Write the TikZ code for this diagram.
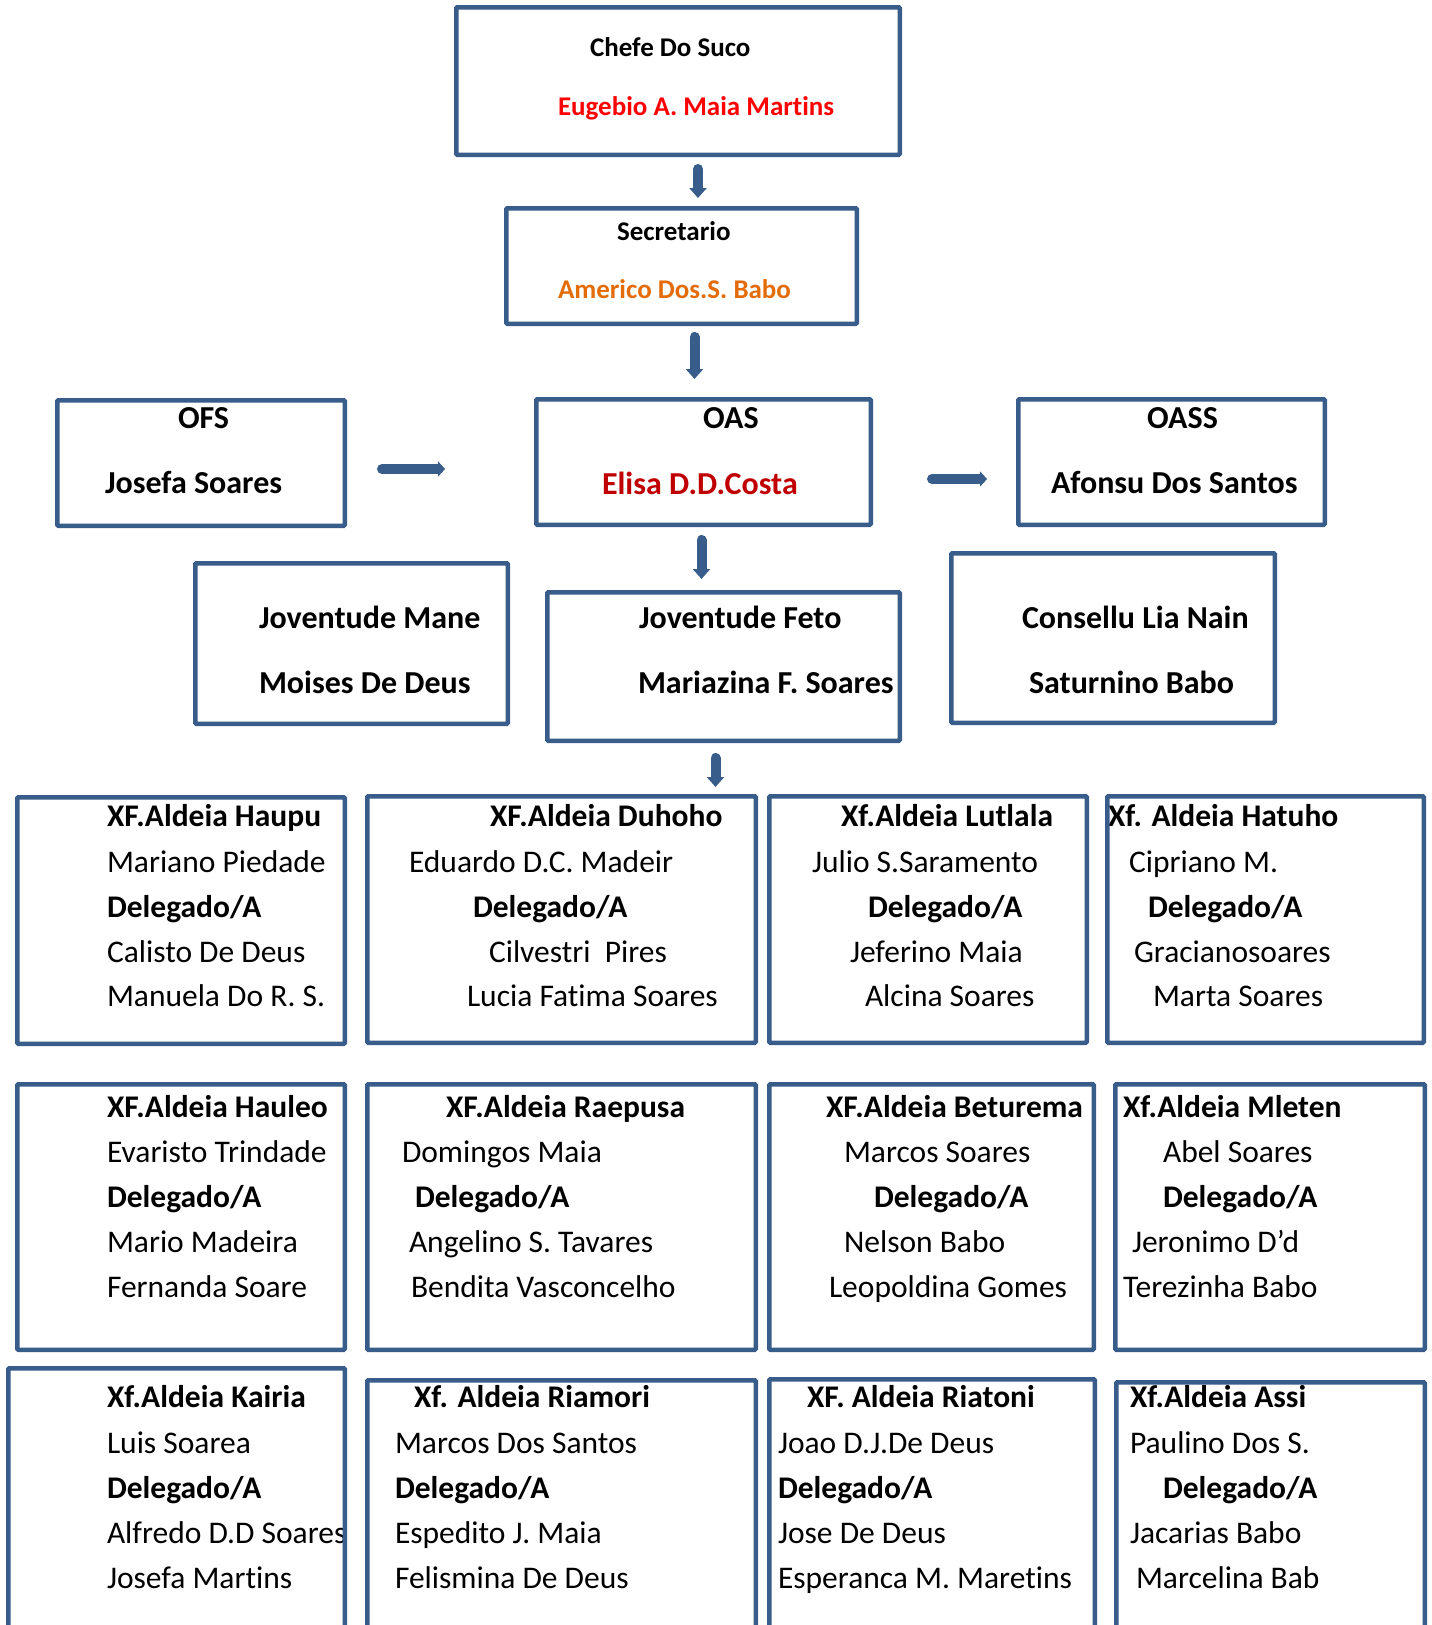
\documentclass[tikz,border=0pt]{standalone}
\usepackage{fontspec}
\setmainfont{Carlito}[Ligatures=NoCommon]
\usetikzlibrary{arrows.meta}
\definecolor{boxblue}{RGB}{56,93,138}
\definecolor{redname}{RGB}{255,0,0}
\definecolor{orangename}{RGB}{227,108,9}
\definecolor{darkredname}{RGB}{192,0,0}
\tikzset{
  box/.style={draw=boxblue, line width=4.5pt, rounded corners=1pt, inner sep=0pt, fill=none},
  txt/.style={anchor=base west, inner sep=0pt, outer sep=0pt},
  topt/.style={txt, font=\fontsize{27pt}{30pt}\selectfont\bfseries},
  midt/.style={txt, font=\fontsize{32pt}{36pt}\selectfont\bfseries},
  gr/.style={txt, font=\fontsize{31.5pt}{36pt}\selectfont},
  gb/.style={txt, font=\fontsize{31.5pt}{36pt}\selectfont\bfseries},
  blockdown/.style={draw=boxblue, line width=10pt, line cap=round, -{Triangle[width=17pt,length=10pt]}},
  blockright/.style={draw=boxblue, line width=10pt, line cap=round, -{Triangle[width=15pt,length=7pt]}}
}
\newcommand\bx[5]{\node[box, minimum width={#4pt-#2pt-4.5pt}, minimum height={#5pt-#3pt-4.5pt}] (#1) at ({(#2+#4)/2},{(#3+#5)/2}) {};}
\begin{document}
\begin{tikzpicture}[x=1pt,y=-1pt]
\useasboundingbox (0,0) rectangle (1432,1625);
\fill[white] (0,0) rectangle (1432,1625);
\clip (0,0) rectangle (1432,1625);

% ---- texts: top ----
\node[topt] (t1a) at (590,56) {Chefe Do Suco};
\node[topt, text=redname] (t1b) at (558,115) {Eugebio A. Maia Martins};
\node[topt] (t2a) at (617,240) {Secretario};
\node[topt, text=orangename] (t2b) at (558,298) {Americo Dos.S. Babo};
\node[midt] (t3a) at (178,428) {OFS};
\node[midt] (t3b) at (105,493) {Josefa Soares};
\node[midt] (t4a) at (703,428) {OAS};
\node[midt, text=darkredname] (t4b) at (602,494) {Elisa D.D.Costa};
\node[midt] (t5a) at (1147,428) {OASS};
\node[midt] (t5b) at (1051,493) {Afonsu Dos Santos};
\node[midt] (t6a) at (259,628) {Joventude Mane};
\node[midt] (t6b) at (259,693) {Moises De Deus};
\node[midt] (t7a) at (639,628) {Joventude Feto};
\node[midt] (t7b) at (638,693) {Mariazina F. Soares};
\node[midt] (t8a) at (1022,628) {Consellu Lia Nain};
\node[midt] (t8b) at (1029,693) {Saturnino Babo};

% ---- grid row 1 ----
\node[gb] (a1) at (107,826) {XF.Aldeia Haupu};
\node[gr] (a2) at (107,872) {Mariano Piedade};
\node[gb] (a3) at (107,917) {Delegado/A};
\node[gr] (a4) at (107,962) {Calisto De Deus};
\node[gr] (a5) at (107,1006) {Manuela Do R. S.};

\node[gb] (b1) at (490,826) {XF.Aldeia Duhoho};
\node[gr] (b2) at (409,872) {Eduardo D.C. Madeir};
\node[gb] (b3) at (473,917) {Delegado/A};
\node[gr] (b4) at (489,962) {Cilvestri\ \ Pires};
\node[gr] (b5) at (467,1006) {Lucia Fatima Soares};

\node[gb] (c1) at (841,826) {Xf.Aldeia Lutlala};
\node[gr] (c2) at (812,872) {Julio S.Saramento};
\node[gb] (c3) at (868,917) {Delegado/A};
\node[gr] (c4) at (850,962) {Jeferino Maia};
\node[gr] (c5) at (865,1006) {Alcina Soares};

\node[gb] (d1) at (1108,826) {Xf. Aldeia Hatuho};
\node[gr] (d2) at (1129,872) {Cipriano M.};
\node[gb] (d3) at (1148,917) {Delegado/A};
\node[gr] (d4) at (1134,962) {Gracianosoares};
\node[gr] (d5) at (1153,1006) {Marta Soares};

% ---- grid row 2 ----
\node[gb] (e1) at (107,1117) {XF.Aldeia Hauleo};
\node[gr] (e2) at (107,1162) {Evaristo Trindade};
\node[gb] (e3) at (107,1207) {Delegado/A};
\node[gr] (e4) at (107,1252) {Mario Madeira};
\node[gr] (e5) at (107,1297) {Fernanda Soare};

\node[gb] (f1) at (446,1117) {XF.Aldeia Raepusa};
\node[gr] (f2) at (402,1162) {Domingos Maia};
\node[gb] (f3) at (415,1207) {Delegado/A};
\node[gr] (f4) at (409,1252) {Angelino S. Tavares};
\node[gr] (f5) at (411,1297) {Bendita Vasconcelho};

\node[gb] (g1) at (826,1117) {XF.Aldeia Beturema};
\node[gr] (g2) at (844,1162) {Marcos Soares};
\node[gb] (g3) at (874,1207) {Delegado/A};
\node[gr] (g4) at (844,1252) {Nelson Babo};
\node[gr] (g5) at (829,1297) {Leopoldina Gomes};

\node[gb] (h1) at (1123,1117) {Xf.Aldeia Mleten};
\node[gr] (h2) at (1163,1162) {Abel Soares};
\node[gb] (h3) at (1163,1207) {Delegado/A};
\node[gr] (h4) at (1132,1252) {Jeronimo D’d};
\node[gr] (h5) at (1123,1297) {Terezinha Babo};

% ---- grid row 3 ----
\node[gb] (i1) at (107,1407) {Xf.Aldeia Kairia};
\node[gr] (i2) at (107,1453) {Luis Soarea};
\node[gb] (i3) at (107,1498) {Delegado/A};
\node[gr] (i4) at (107,1543) {Alfredo D.D Soares};
\node[gr] (i5) at (107,1588) {Josefa Martins};

\node[gb] (j1) at (414,1407) {Xf. Aldeia Riamori};
\node[gr] (j2) at (395,1453) {Marcos Dos Santos};
\node[gb] (j3) at (395,1498) {Delegado/A};
\node[gr] (j4) at (395,1543) {Espedito J. Maia};
\node[gr] (j5) at (395,1588) {Felismina De Deus};

\node[gb] (k1) at (807,1407) {XF. Aldeia Riatoni};
\node[gr] (k2) at (778,1453) {Joao D.J.De Deus};
\node[gb] (k3) at (778,1498) {Delegado/A};
\node[gr] (k4) at (778,1543) {Jose De Deus};
\node[gr] (k5) at (778,1588) {Esperanca M. Maretins};

\node[gb] (l1) at (1130,1407) {Xf.Aldeia Assi};
\node[gr] (l2) at (1130,1453) {Paulino Dos S.};
\node[gb] (l3) at (1163,1498) {Delegado/A};
\node[gr] (l4) at (1130,1543) {Jacarias Babo};
\node[gr] (l5) at (1136,1588) {Marcelina Bab};

% ---- boxes ----
\bx{chefe}{454}{5}{902}{157}
\bx{sec}{504}{206}{859}{326}
\bx{ofs}{55}{398}{347}{528}
\bx{oas}{534}{397}{873}{527}
\bx{oass}{1016}{397}{1327}{527}
\bx{jmane}{193}{561}{510}{726}
\bx{jfeto}{545}{590}{902}{743}
\bx{cons}{949}{551}{1277}{725}

\bx{haupu}{15}{795}{347}{1046}
\bx{duhoho}{365}{794}{758}{1045}
\bx{lutlala}{767}{794}{1089}{1045}
\bx{hatuho}{1105}{794}{1426}{1045}

\bx{hauleo}{15}{1082}{347}{1352}
\bx{raepusa}{365}{1082}{758}{1352}
\bx{beturema}{767}{1082}{1096}{1352}
\bx{mleten}{1113}{1082}{1427}{1352}

\bx{kairia}{6}{1366}{347}{1660}
\bx{riamori}{365}{1378}{758}{1660}
\bx{riatoni}{767}{1377}{1097}{1660}
\bx{assi}{1114}{1380}{1427}{1660}

% ---- arrows ----
\coordinate (ar1s) at (698,169);   \coordinate (ar1e) at (698,198);
\coordinate (ar2s) at (694.5,337); \coordinate (ar2e) at (694.5,379);
\coordinate (ar3s) at (701.5,540); \coordinate (ar3e) at (701.5,579);
\coordinate (ar4s) at (715.5,758); \coordinate (ar4e) at (715.5,787);
\coordinate (ar5s) at (382,469);   \coordinate (ar5e) at (445,469);
\coordinate (ar6s) at (932,479);   \coordinate (ar6e) at (987,479);
\draw[blockdown] (ar1s) -- (ar1e);
\draw[blockdown] (ar2s) -- (ar2e);
\draw[blockdown] (ar3s) -- (ar3e);
\draw[blockdown] (ar4s) -- (ar4e);
\draw[blockright] (ar5s) -- (ar5e);
\draw[blockright] (ar6s) -- (ar6e);
\end{tikzpicture}
\end{document}
